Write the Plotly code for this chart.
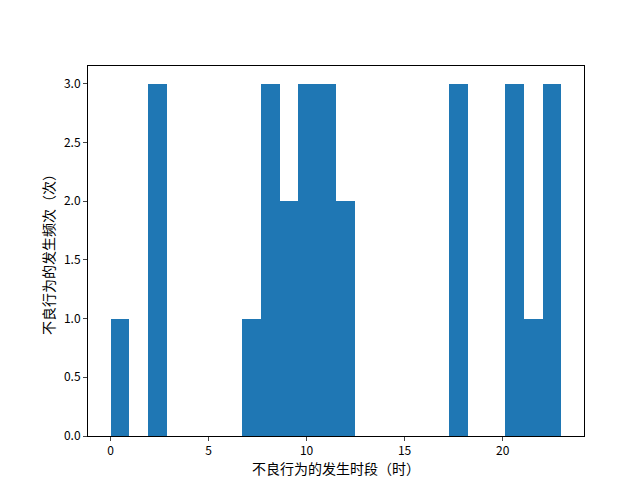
import plotly.graph_objects as go

bin_index = list(range(24))
counts = [1,0,3,0,0,0,0,1,3,2,3,3,2,0,0,0,0,0,3,0,0,3,1,3]
x_min, x_max = 0, 23
w = (x_max - x_min) / 24
centers = [x_min + w*(i+0.5) for i in bin_index]

fig = go.Figure(go.Bar(x=centers, y=counts, width=w, marker=dict(color="#1f77b4", line_width=0)))
font = "Noto Sans CJK SC, DejaVu Sans, sans-serif"
fig.update_layout(
    width=640, height=480, margin=dict(l=80, r=64, t=58, b=52, autoexpand=False),
    plot_bgcolor="white", paper_bgcolor="white", bargap=0,
    font=dict(family=font, size=12, color="black"), showlegend=False,
)
axis = dict(showline=True, linecolor="black", mirror=True, ticks="outside", ticklen=4,
            showgrid=False, zeroline=False, automargin=False)
fig.update_xaxes(range=[-1.15, 24.15], tickvals=[0,5,10,15,20], title=dict(text="不良行为的发生时段（时）", standoff=6), **axis)
fig.update_yaxes(range=[0, 3.15], tickvals=[0,0.5,1,1.5,2,2.5,3], ticktext=["0.0","0.5","1.0","1.5","2.0","2.5","3.0"], title=dict(text="不良行为的发生频次（次）", standoff=6), **axis)
fig.write_html("out.html")
